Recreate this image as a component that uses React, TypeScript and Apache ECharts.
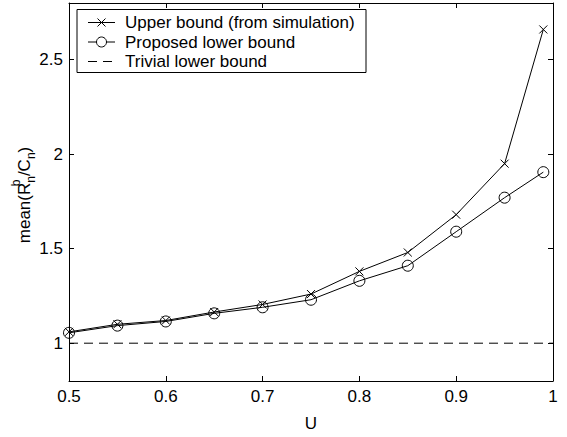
import React, { useEffect, useRef } from "react";
import * as echarts from "echarts";

const uValues = [0.5, 0.55, 0.6, 0.65, 0.7, 0.75, 0.8, 0.85, 0.9, 0.95, 0.99];
const upperBound = [1.06, 1.1, 1.12, 1.165, 1.205, 1.26, 1.38, 1.48, 1.68, 1.95, 2.66];
const proposedLower = [1.055, 1.093, 1.115, 1.158, 1.19, 1.23, 1.33, 1.41, 1.59, 1.77, 1.905];
const trivialX = [0.5, 1];
const trivialY = [1, 1];
const xTicks = [0.5, 0.6, 0.7, 0.8, 0.9, 1];
const yTicks = [1, 1.5, 2, 2.5];
const seriesNames = ["Upper bound (from simulation)", "Proposed lower bound", "Trivial lower bound"];

const FONT = "Liberation Sans, Arial, Helvetica, sans-serif";
const CROSS = "path://M0,0 L10,10 M10,0 L0,10";
const FS = 17;

export default function App() {
  const ref = useRef<HTMLDivElement>(null);
  useEffect(() => {
    if (!ref.current) return;
    const chart = echarts.init(ref.current, undefined, { renderer: "svg" });
    const axisLine = { show: true, lineStyle: { color: "#000", width: 1 } };
    const tick = { show: true, inside: true, length: 5, lineStyle: { color: "#000", width: 1 } };

    // manual legend (MATLAB style)
    const legX = 77;
    const legY = 9.5;
    const legW = 289;
    const legH = 63;
    const rowY = [22.5, 42, 61.5];
    const iconX0 = 88;
    const iconX1 = 115;
    const iconC = (iconX0 + iconX1) / 2;
    const textX = 125;
    const stroke = { stroke: "#000", lineWidth: 1 };
    const legendElems: any[] = [
      {
        type: "rect",
        shape: { x: legX, y: legY, width: legW, height: legH },
        style: { fill: "#fff", stroke: "#000", lineWidth: 1 },
        z: 100,
      },
      { type: "line", shape: { x1: iconX0, y1: rowY[0], x2: iconX1, y2: rowY[0] }, style: stroke, z: 101 },
      { type: "line", shape: { x1: iconC - 4, y1: rowY[0] - 4, x2: iconC + 4, y2: rowY[0] + 4 }, style: stroke, z: 101 },
      { type: "line", shape: { x1: iconC + 4, y1: rowY[0] - 4, x2: iconC - 4, y2: rowY[0] + 4 }, style: stroke, z: 101 },
      { type: "line", shape: { x1: iconX0, y1: rowY[1], x2: iconX1, y2: rowY[1] }, style: stroke, z: 101 },
      { type: "circle", shape: { cx: iconC, cy: rowY[1], r: 5 }, style: { fill: "#fff", stroke: "#000", lineWidth: 1 }, z: 102 },
      { type: "line", shape: { x1: iconX0, y1: rowY[2], x2: iconX1, y2: rowY[2] }, style: { ...stroke, lineDash: [9, 6] }, z: 101 },
    ];
    seriesNames.forEach((name, i) => {
      legendElems.push({
        type: "text",
        x: textX,
        y: rowY[i],
        style: { text: name, fontSize: FS, fontFamily: FONT, fill: "#000", align: "left", verticalAlign: "middle" },
        z: 101,
      });
    });

    chart.setOption({
      animation: false,
      backgroundColor: "#fff",
      textStyle: { fontFamily: FONT },
      grid: { left: 69, right: 14, top: 3, bottom: 54, containLabel: false },
      xAxis: [
        {
          type: "value",
          min: 0.5,
          max: 1,
          interval: 0.1,
          name: "U",
          nameLocation: "middle",
          nameGap: 34,
          nameTextStyle: { fontSize: FS, color: "#000", fontFamily: FONT },
          axisLine,
          axisTick: tick,
          splitLine: { show: false },
          axisLabel: {
            color: "#000",
            fontSize: FS,
            margin: 7,
            fontFamily: FONT,
            customValues: xTicks,
            formatter: (v: number) => String(Math.round(v * 10) / 10),
          },
        },
        {
          type: "value",
          position: "top",
          min: 0.5,
          max: 1,
          interval: 0.1,
          axisLine,
          axisTick: tick,
          axisLabel: { show: false },
          splitLine: { show: false },
        },
      ],
      yAxis: [
        {
          type: "value",
          min: 0.8,
          max: 2.8,
          axisLine,
          axisTick: { ...tick, customValues: yTicks },
          splitLine: { show: false },
          axisLabel: {
            color: "#000",
            fontSize: FS,
            margin: 6,
            fontFamily: FONT,
            customValues: yTicks,
            formatter: (v: number) => String(v),
          },
        },
        {
          type: "value",
          position: "right",
          min: 0.8,
          max: 2.8,
          axisLine,
          axisTick: { ...tick, customValues: yTicks },
          axisLabel: { show: false },
          splitLine: { show: false },
        },
      ],
      graphic: [
        {
          type: "text",
          x: 24,
          y: 195,
          rotation: Math.PI / 2,
          style: {
            text: "mean(R{sup|b}{sub|n}/C{sub|n})",
            align: "center",
            verticalAlign: "middle",
            fill: "#000",
            fontSize: FS,
            fontFamily: FONT,
            rich: {
              sup: { fontSize: 12, padding: [0, 0, 16, 0], width: 0, fontFamily: FONT, fill: "#000" },
              sub: { fontSize: 12, padding: [13, 0, 0, 0], fontFamily: FONT, fill: "#000" },
            },
          },
        },
        ...legendElems,
      ],
      series: [
        {
          name: seriesNames[0],
          type: "line",
          data: uValues.map((u, i) => [u, upperBound[i]]),
          symbol: CROSS,
          symbolSize: 8,
          lineStyle: { color: "#000", width: 1 },
          itemStyle: { color: "none", borderColor: "#000", borderWidth: 1 },
          z: 3,
        },
        {
          name: seriesNames[1],
          type: "line",
          data: uValues.map((u, i) => [u, proposedLower[i]]),
          symbol: "circle",
          symbolSize: 11,
          lineStyle: { color: "#000", width: 1 },
          itemStyle: { color: "none", borderColor: "#000", borderWidth: 1 },
          z: 2,
        },
        {
          name: seriesNames[2],
          type: "line",
          data: trivialX.map((x, i) => [x, trivialY[i]]),
          symbol: "none",
          showSymbol: false,
          lineStyle: { color: "#000", width: 1, type: [9, 6] },
          itemStyle: { color: "#000" },
          z: 1,
        },
      ],
    });
    return () => chart.dispose();
  }, []);
  return (
    <div
      ref={ref}
      style={{ position: "fixed", left: 0, top: 0, width: 567, height: 437 }}
    />
  );
}
